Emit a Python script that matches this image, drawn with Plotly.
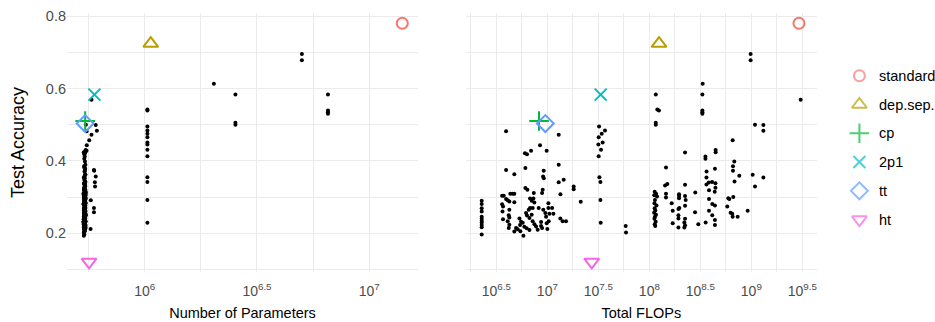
import plotly.graph_objects as go

# ---------------- data ----------------
# Each black dot is one model: test accuracy, log10(total FLOPs), log10(#params)
acc = [
    # low-FLOP column
    0.290, 0.281, 0.269, 0.260, 0.246, 0.240, 0.235, 0.230, 0.223, 0.217, 0.197,
    # 10^6.5 - 10^7.3 cloud
    0.482, 0.472, 0.443, 0.428, 0.421, 0.418, 0.428, 0.375, 0.363, 0.380,
    0.373, 0.357, 0.352, 0.389, 0.348, 0.341, 0.329, 0.322, 0.325, 0.320,
    0.320, 0.311, 0.311, 0.308, 0.309, 0.309, 0.309, 0.304, 0.304, 0.295,
    0.291, 0.288, 0.286, 0.280, 0.274, 0.296, 0.290, 0.296, 0.285, 0.270,
    0.270, 0.265, 0.265, 0.260, 0.239, 0.250, 0.244, 0.270, 0.265, 0.283,
    0.270, 0.270, 0.256, 0.254, 0.254, 0.256, 0.249, 0.242, 0.251, 0.241,
    0.232, 0.229, 0.223, 0.218, 0.214, 0.209, 0.233, 0.225, 0.219, 0.233,
    0.224, 0.215, 0.215, 0.211, 0.206, 0.193, 0.231, 0.220, 0.215, 0.246,
    0.228, 0.233, 0.241, 0.233, 0.233, 0.212, 0.210, 0.205, 0.287,
    # 10^7.5 column
    0.495, 0.484, 0.475, 0.465, 0.451, 0.445, 0.431, 0.413, 0.355, 0.342, 0.292, 0.229,
    0.220, 0.202,
    # 10^8 column
    0.583, 0.542, 0.539, 0.505, 0.500,
    0.315, 0.309, 0.305, 0.302, 0.292, 0.283, 0.277, 0.269, 0.263, 0.257,
    0.251, 0.246, 0.240, 0.232, 0.225, 0.220,
    0.382, 0.332, 0.336, 0.309, 0.299,
    # 10^8.2 - 10^9.5
    0.695, 0.678, 0.613, 0.583, 0.539, 0.534, 0.530,
    0.500, 0.457, 0.423, 0.412, 0.406, 0.430, 0.424, 0.398, 0.385, 0.373,
    0.359, 0.362, 0.329, 0.354, 0.371, 0.378, 0.354, 0.340, 0.342, 0.338,
    0.335, 0.326, 0.315, 0.319, 0.343, 0.334, 0.313, 0.308, 0.303, 0.297,
    0.303, 0.292, 0.276, 0.283, 0.262, 0.267, 0.270, 0.295, 0.281, 0.277,
    0.262, 0.258, 0.250, 0.241, 0.240, 0.230, 0.222, 0.216, 0.228, 0.225,
    0.230, 0.250, 0.237, 0.223, 0.216, 0.274, 0.297, 0.295, 0.300, 0.257,
    0.254, 0.246, 0.246, 0.262,
    0.499, 0.483, 0.569,
]

log10_flops = [
    6.356, 6.356, 6.356, 6.356, 6.356, 6.356, 6.356, 6.356, 6.356, 6.356, 6.356,
    6.595, 7.111, 6.928, 6.840, 6.780, 6.800, 6.993, 6.595, 6.676, 6.784,
    6.964, 6.958, 6.965, 7.111, 7.160, 7.111, 7.258, 7.258, 6.784, 6.804,
    6.954, 6.948, 6.867, 7.128, 6.637, 6.660, 6.676, 6.572, 6.556, 6.595,
    6.611, 6.627, 6.676, 6.556, 6.565, 6.830, 6.846, 6.863, 6.872, 6.830,
    6.856, 6.817, 6.627, 6.560, 6.565, 6.621, 6.627, 6.915, 6.960, 7.010,
    7.010, 7.046, 6.980, 7.020, 7.059, 6.791, 6.800, 6.824, 6.846, 6.726,
    6.742, 6.758, 6.732, 6.774, 6.797, 6.824, 6.856, 6.873, 6.889, 6.611,
    6.627, 6.621, 6.693, 6.709, 6.735, 6.765, 6.938, 6.938, 6.948, 6.987,
    6.993, 7.013, 7.127, 7.150, 7.183, 7.000, 6.905, 6.676, 7.327,
    7.507, 7.565, 7.533, 7.503, 7.542, 7.500, 7.526, 7.503, 7.510, 7.520, 7.520, 7.523,
    7.768, 7.771,
    8.063, 8.078, 8.094, 8.063, 8.063,
    8.052, 8.066, 8.048, 8.075, 8.055, 8.050, 8.070, 8.052, 8.058, 8.047,
    8.065, 8.055, 8.050, 8.062, 8.053, 8.058,
    8.163, 8.154, 8.176, 8.163, 8.163,
    8.993, 8.993, 8.523, 8.520, 8.520, 8.520, 8.520,
    9.036, 8.817, 8.350, 8.550, 8.550, 8.650, 8.650, 8.833, 8.820, 8.820,
    8.882, 9.013, 9.036, 9.118, 8.561, 8.643, 8.560, 8.583, 8.615, 8.648,
    8.560, 8.648, 8.641, 8.585, 8.835, 8.350, 8.450, 8.291, 8.291, 8.291,
    8.350, 8.356, 8.350, 8.219, 8.229, 8.285, 8.294, 8.585, 8.617, 8.643,
    8.585, 8.448, 8.285, 8.285, 8.350, 8.343, 8.350, 8.343, 8.229, 8.480,
    8.552, 8.617, 8.643, 8.643, 8.285, 8.764, 8.774, 8.784, 8.823, 8.797,
    8.813, 8.817, 8.866, 8.964,
    9.118, 9.118, 9.484,
]

log10_params = [
    5.730, 5.728, 5.733, 5.731, 5.729, 5.734, 5.730, 5.727, 5.732, 5.729, 5.731,
    5.741, 5.763, 5.742, 5.737, 5.733, 5.731, 5.741, 5.774, 5.735, 5.732,
    5.734, 5.782, 5.733, 5.736, 5.731, 5.778, 5.735, 5.732, 5.730, 5.736,
    5.729, 5.733, 5.738, 5.731, 5.727, 5.734, 5.730, 5.736, 5.729, 5.733,
    5.760, 5.731, 5.735, 5.728, 5.732, 5.737, 5.733, 5.729, 5.735, 5.731,
    5.774, 5.734, 5.730, 5.736, 5.728, 5.733, 5.731, 5.735, 5.732, 5.737,
    5.730, 5.734, 5.729, 5.736, 5.731, 5.733, 5.735, 5.730, 5.738, 5.732,
    5.729, 5.734, 5.731, 5.736, 5.730, 5.733, 5.728, 5.735, 5.731, 5.734,
    5.729, 5.737, 5.732, 5.730, 5.733, 5.729, 5.736, 5.731, 5.734, 5.730,
    5.733, 5.737, 5.732, 5.735, 5.731, 5.759, 5.733, 5.730, 5.735,
    6.012, 6.012, 6.012, 6.012, 6.012, 6.012, 6.012, 6.012, 6.012, 6.012, 6.012, 6.012,
    5.732, 5.729,
    6.404, 6.012, 6.012, 6.404, 6.404,
    5.733, 5.730, 5.736, 5.731, 5.734, 5.729, 5.735, 5.732, 5.730, 5.734,
    5.731, 5.736, 5.733, 5.730, 5.734, 5.729,
    5.732, 5.735, 5.730, 5.733, 5.736,
    6.700, 6.700, 6.308, 6.816, 6.816, 6.816, 6.816,
    5.738, 5.753, 5.735, 5.733, 5.731, 5.737, 5.729, 5.734, 5.730, 5.775,
    5.733, 5.736, 5.779, 5.731, 5.732, 5.735, 5.729, 5.733, 5.736, 5.730,
    5.734, 5.731, 5.737, 5.732, 5.735, 5.733, 5.730, 5.736, 5.731, 5.734,
    5.729, 5.735, 5.732, 5.730, 5.734, 5.731, 5.736, 5.733, 5.730, 5.735,
    5.729, 5.774, 5.732, 5.735, 5.730, 5.733, 5.736, 5.731, 5.734, 5.729,
    5.733, 5.737, 5.730, 5.734, 5.732, 5.735, 5.731, 5.736, 5.733, 5.730,
    5.734, 5.729, 5.733, 5.736,
    5.782, 5.787, 5.763,
]

# Reference architectures
methods = ["standard", "dep.sep.", "cp", "2p1", "tt", "ht"]
method_acc = [0.780, 0.724, 0.510, 0.583, 0.503, 0.121]
method_log10_params = [7.147, 6.027, 5.735, 5.776, 5.735, 5.752]
method_log10_flops = [9.467, 8.095, 6.918, 7.523, 6.980, 7.435]
method_colors = ["#F8766D", "#B79F00", "#00BA38", "#00BFC4", "#619CFF", "#F564E3"]
method_symbols = ["circle-open", "triangle-up-open", "cross-thin-open",
                  "x-thin-open", "diamond-open", "triangle-down-open"]
method_sizes = [11, 13, 14, 12, 13, 13]

# axis ticks (log10 exponents)
params_ticks = [6, 6.5, 7]
params_minor = [5.75, 6.25, 6.75, 7.25]
flops_ticks = [6.5, 7, 7.5, 8, 8.5, 9, 9.5]
flops_minor = [6.25, 6.75, 7.25, 7.75, 8.25, 8.75, 9.25]
acc_ticks = [0.2, 0.4, 0.6, 0.8]
acc_minor = [0.1, 0.3, 0.5, 0.7]

# ---------------- figure ----------------
FONT = "Liberation Sans, Arial, Helvetica, sans-serif"
fig = go.Figure()

params_raw = [10 ** v for v in log10_params]
flops_raw = [10 ** v for v in log10_flops]

fig.add_trace(go.Scatter(x=params_raw, y=acc, mode="markers",
                         marker=dict(color="black", size=4),
                         showlegend=False, xaxis="x", yaxis="y", hoverinfo="skip"))
fig.add_trace(go.Scatter(x=flops_raw, y=acc, mode="markers",
                         marker=dict(color="black", size=4),
                         showlegend=False, xaxis="x2", yaxis="y", hoverinfo="skip"))

for i, m in enumerate(methods):
    mk = dict(color=method_colors[i], symbol=method_symbols[i], size=method_sizes[i],
              line=dict(width=2, color=method_colors[i]))
    fig.add_trace(go.Scatter(x=[10 ** method_log10_params[i]], y=[method_acc[i]],
                             mode="markers", marker=mk, name=m,
                             showlegend=False, xaxis="x", yaxis="y"))
    fig.add_trace(go.Scatter(x=[10 ** method_log10_flops[i]], y=[method_acc[i]],
                             mode="markers", marker=mk, name=m,
                             showlegend=False, xaxis="x2", yaxis="y"))

# ---- legend (drawn in its own small panel so it can sit at the figure edge) ----
LEG_SYMBOL_X = 0.16
LEG_TEXT_X = 0.35
fig.add_trace(go.Scatter(
    x=[LEG_SYMBOL_X] * len(methods), y=methods, mode="markers",
    marker=dict(color=method_colors, symbol=method_symbols, size=method_sizes,
                line=dict(width=2, color=method_colors)),
    showlegend=False, hoverinfo="skip", xaxis="x3", yaxis="y3"))
for i, m in enumerate(methods):
    fig.add_annotation(x=LEG_TEXT_X, y=m, xref="x3", yref="y3", text=m,
                       showarrow=False, xanchor="left", yanchor="middle",
                       font=dict(size=14.5, color="black", family=FONT))

GRID = "#EBEBEB"


def fmt(e):
    s = ("%g" % e)
    return "10<sup>%s</sup>" % s


xcommon = dict(type="log", showline=False, zeroline=False, ticks="",
               showgrid=True, gridcolor=GRID, gridwidth=1.3,
               tickfont=dict(size=14, color="#4D4D4D", family=FONT),
               title_font=dict(size=14.5, color="black", family=FONT),
               ticklabelstandoff=9,
               automargin=False)

W_PLOT = 935 - 67  # width of the plotting region (margin l=67, r=0)

fig.update_layout(
    width=935, height=322,
    margin=dict(l=67, r=0, t=13, b=50),
    paper_bgcolor="white", plot_bgcolor="white",
    font=dict(family=FONT),
    showlegend=False,
    xaxis=dict(domain=[0, 351 / W_PLOT],
               range=[5.654, 7.217],
               tickvals=[10 ** v for v in params_ticks],
               ticktext=[fmt(v) for v in params_ticks],
               minor=dict(tickvals=[10 ** v for v in params_minor], showgrid=True,
                          gridcolor=GRID, gridwidth=0.8, ticks=""),
               title=dict(text="Number of Parameters", standoff=9),
               **xcommon),
    xaxis2=dict(domain=[399 / W_PLOT, 749.7 / W_PLOT],
                range=[6.202, 9.641],
                tickvals=[10 ** v for v in flops_ticks],
                ticktext=[fmt(v) for v in flops_ticks],
                minor=dict(tickvals=[10 ** v for v in flops_minor], showgrid=True,
                           gridcolor=GRID, gridwidth=0.8, ticks=""),
                title=dict(text="Total FLOPs", standoff=9),
                **xcommon),
    yaxis=dict(domain=[0, 1], range=[0.0932, 0.8083],
               tickvals=acc_ticks, ticktext=["0.2", "0.4", "0.6", "0.8"],
               minor=dict(tickvals=acc_minor, showgrid=True, gridcolor=GRID,
                          gridwidth=0.8, ticks=""),
               showgrid=True, gridcolor=GRID, gridwidth=1.3,
               showline=False, zeroline=False, ticks="",
               tickfont=dict(size=14.5, color="#4D4D4D", family=FONT),
               title=dict(text="Test Accuracy", standoff=16,
                          font=dict(size=18, color="black", family=FONT)),
               automargin=False),
    yaxis2=dict(overlaying="y", visible=False),
    xaxis3=dict(domain=[778 / W_PLOT, 1.0], range=[0, 1], visible=False,
                fixedrange=True),
    yaxis3=dict(domain=[0, 1], anchor="x3", type="category",
                categoryorder="array", categoryarray=methods,
                range=[6.82, -2.18], visible=False, fixedrange=True),
)

fig.write_html("out.html", config={"displayModeBar": False},
               post_script="document.body.style.margin='0px';document.body.style.padding='0px';")
